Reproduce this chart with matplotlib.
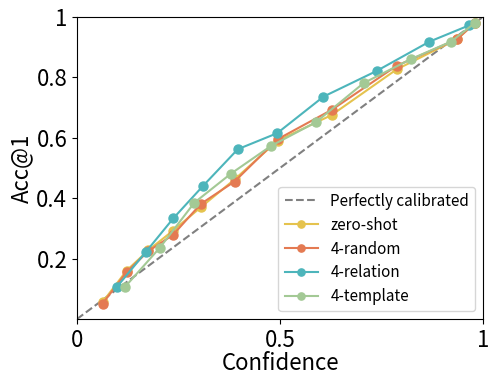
import matplotlib
matplotlib.use("Agg")
import matplotlib.pyplot as plt

plt.rcParams['font.family'] = ['Noto Sans CJK JP', 'DejaVu Sans']

# 信頼度と正解率
conf_zero = [0.063, 0.122, 0.176, 0.236, 0.305, 0.388, 0.494, 0.627, 0.787, 0.936, 0.981]
acc_zero = [0.056, 0.160, 0.228, 0.292, 0.370, 0.462, 0.590, 0.675, 0.826, 0.926, 0.981]

conf_random = [0.063, 0.122, 0.176, 0.236, 0.305, 0.388, 0.494, 0.627, 0.787, 0.936, 0.981]
acc_random = [0.051, 0.155, 0.225, 0.278, 0.381, 0.455, 0.595, 0.692, 0.838, 0.926, 0.981]

conf_relation = [0.098, 0.169, 0.237, 0.310, 0.396, 0.493, 0.607, 0.738, 0.868, 0.966]
acc_relation = [0.106, 0.221, 0.333, 0.440, 0.562, 0.615, 0.736, 0.821, 0.918, 0.972]

conf_template = [0.118, 0.204, 0.289, 0.379, 0.478, 0.588, 0.706, 0.822, 0.921, 0.981]
acc_template = [0.106, 0.236, 0.385, 0.481, 0.573, 0.651, 0.781, 0.860, 0.918, 0.981]

fig = plt.figure(figsize=(4.98, 3.83), dpi=100)
ax = fig.add_axes([0.1546, 0.167, 0.8154, 0.789])

ax.plot([0, 1], [0, 1], '--', color='#808080', lw=1.5, label='Perfectly calibrated')
ax.plot(conf_zero, acc_zero, '-o', color='#E5C34E', lw=1.5, ms=6.5, label='zero-shot')
ax.plot(conf_random, acc_random, '-o', color='#E47A52', lw=1.5, ms=6.5, label='4-random')
ax.plot(conf_relation, acc_relation, '-o', color='#4DB5BB', lw=1.5, ms=6.5, label='4-relation')
ax.plot(conf_template, acc_template, '-o', color='#A3C995', lw=1.5, ms=6.5, label='4-template')

ax.set_xlim(0, 1)
ax.set_ylim(0, 1)
ax.set_xticks([0, 0.5, 1])
ax.set_xticklabels(['0', '0.5', '1'])
ax.set_yticks([0.2, 0.4, 0.6, 0.8, 1])
ax.set_yticklabels(['0.2', '0.4', '0.6', '0.8', '1'])
ax.tick_params(labelsize=16)
ax.set_xlabel('Confidence', fontsize=16, labelpad=0)
ax.set_ylabel('Acc@1', fontsize=16, labelpad=2)

ax.legend(loc='lower right', fontsize=11, handlelength=2.2, labelspacing=0.45,
          borderpad=0.4, handletextpad=0.8, markerscale=0.8)

fig.savefig('out.png', dpi=100)
